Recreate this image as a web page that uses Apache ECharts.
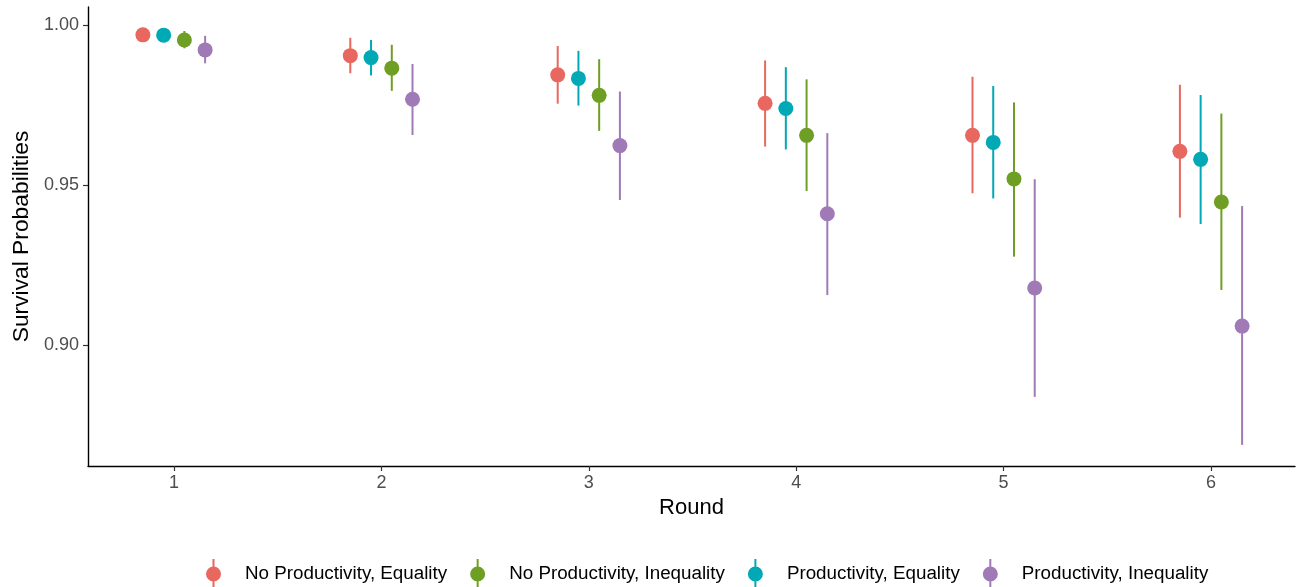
<!DOCTYPE html>
<html>
<head>
<meta charset="utf-8">
<script src="https://cdn.jsdelivr.net/npm/echarts@6/dist/echarts.min.js"></script>
<style>
html,body{margin:0;padding:0;background:#fff;}
#chart{width:1304px;height:587px;}
</style>
</head>
<body>
<div id="chart"></div>
<script>
// ---- data ----
const rounds = [1, 2, 3, 4, 5, 6];
const yTicks = [0.90, 0.95, 1.00];
const seriesNames = ['No Productivity, Equality', 'No Productivity, Inequality', 'Productivity, Equality', 'Productivity, Inequality'];

const noProdEqMean = [0.9969, 0.9904, 0.9844, 0.9755, 0.9655, 0.9605];
const noProdEqLow  = [0.9957, 0.9849, 0.9754, 0.9620, 0.9474, 0.9398];
const noProdEqHigh = [0.9981, 0.9960, 0.9934, 0.9889, 0.9838, 0.9813];

const noProdIneqMean = [0.9953, 0.9865, 0.9780, 0.9655, 0.9519, 0.9447];
const noProdIneqLow  = [0.9927, 0.9794, 0.9669, 0.9481, 0.9276, 0.9172];
const noProdIneqHigh = [0.9981, 0.9938, 0.9893, 0.9830, 0.9758, 0.9723];

const prodEqMean = [0.9968, 0.9898, 0.9833, 0.9739, 0.9633, 0.9580];
const prodEqLow  = [0.9956, 0.9842, 0.9748, 0.9611, 0.9458, 0.9378];
const prodEqHigh = [0.9980, 0.9953, 0.9919, 0.9868, 0.9809, 0.9781];

const prodIneqMean = [0.9922, 0.9768, 0.9623, 0.9410, 0.9178, 0.9059];
const prodIneqLow  = [0.9880, 0.9656, 0.9453, 0.9156, 0.8838, 0.8688];
const prodIneqHigh = [0.9966, 0.9878, 0.9792, 0.9662, 0.9518, 0.9434];

// ---- styling / layout ----
const colors = ['#E8675E', '#6E9E24', '#00A9B5', '#A079B7'];
const dodgeSlot = [0, 2, 1, 3];   // position order within each round
const dodgeStep = 0.1;

const groups = [
  {mean: noProdEqMean, low: noProdEqLow, high: noProdEqHigh},
  {mean: noProdIneqMean, low: noProdIneqLow, high: noProdIneqHigh},
  {mean: prodEqMean, low: prodEqLow, high: prodEqHigh},
  {mean: prodIneqMean, low: prodIneqLow, high: prodIneqHigh}
];

const series = [];
groups.forEach((g, i) => {
  const off = (dodgeSlot[i] - 1.5) * dodgeStep;
  series.push({
    name: seriesNames[i],
    type: 'custom',
    z: 2,
    itemStyle: {color: colors[i]},
    data: rounds.map((r, k) => [r + off, g.low[k], g.high[k]]),
    encode: {x: 0, y: [1, 2]},
    renderItem: function (params, api) {
      const p1 = api.coord([api.value(0), api.value(1)]);
      const p2 = api.coord([api.value(0), api.value(2)]);
      return {
        type: 'line',
        shape: {x1: p1[0], y1: p1[1], x2: p2[0], y2: p2[1]},
        style: {stroke: colors[i], lineWidth: 2}
      };
    }
  });
  series.push({
    name: seriesNames[i],
    type: 'scatter',
    z: 3,
    symbol: 'circle',
    symbolSize: 15,
    itemStyle: {color: colors[i], opacity: 1},
    data: rounds.map((r, k) => [r + off, g.mean[k]])
  });
});

const legendIcon = 'path://M7,0 L9,0 L9,30 L7,30 Z M15.5,15 A7.5,7.5 0 1,1 0.5,15 A7.5,7.5 0 1,1 15.5,15 Z';

const chart = echarts.init(document.getElementById('chart'), null, {renderer: 'canvas'});
chart.setOption({
  animation: false,
  backgroundColor: '#fff',
  textStyle: {fontFamily: 'Liberation Sans, Arial, sans-serif'},
  grid: {left: 88, right: 9, top: 7, bottom: 121, containLabel: false},
  legend: {
    data: seriesNames.map(n => ({name: n, icon: legendIcon})),
    top: 559,
    left: 206,
    padding: 0,
    itemWidth: 15,
    itemHeight: 30,
    itemGap: 23,
    textStyle: {fontSize: 18.8, color: '#000', padding: [0, 0, 0, 19]}
  },
  xAxis: {
    type: 'value',
    min: 0.5853,
    max: 6.405,
    name: 'Round',
    nameLocation: 'middle',
    nameGap: 31,
    nameTextStyle: {fontSize: 22, color: '#000'},
    splitLine: {show: false},
    axisLine: {show: true, onZero: false, lineStyle: {color: '#000', width: 1.4}},
    axisTick: {show: true, customValues: rounds, length: 5, lineStyle: {color: '#333', width: 1.2}},
    axisLabel: {customValues: rounds, margin: 8, fontSize: 18, color: '#4D4D4D', formatter: v => String(Math.round(v))}
  },
  yAxis: {
    type: 'value',
    min: 0.8622,
    max: 1.0056,
    name: 'Survival Probabilities',
    nameLocation: 'middle',
    nameGap: 50,
    nameRotate: 90,
    nameTextStyle: {fontSize: 22.8, color: '#000'},
    splitLine: {show: false},
    axisLine: {show: true, onZero: false, lineStyle: {color: '#000', width: 1.4}},
    axisTick: {show: true, customValues: yTicks, length: 5, lineStyle: {color: '#333', width: 1.2}},
    axisLabel: {customValues: yTicks, margin: 9, fontSize: 18, color: '#4D4D4D', formatter: v => v.toFixed(2)}
  },
  series: series
});
</script>
</body>
</html>
